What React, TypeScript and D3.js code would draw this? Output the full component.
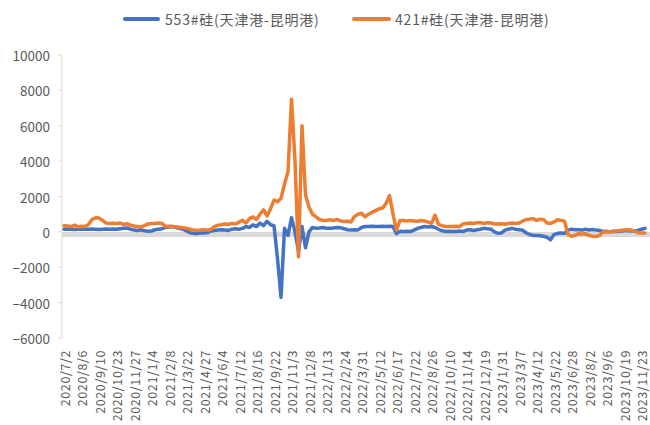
import React from "react";
import * as d3 from "d3";

const dateLabels = [
  "2020/7/2", "2020/8/6", "2020/9/10", "2020/10/23", "2020/11/27", "2021/1/4",
  "2021/2/8", "2021/3/22", "2021/4/27", "2021/6/4", "2021/7/12", "2021/8/16",
  "2021/9/22", "2021/11/3", "2021/12/8", "2022/1/13", "2022/2/24", "2022/3/31",
  "2022/5/12", "2022/6/17", "2022/7/22", "2022/8/26", "2022/10/10", "2022/11/14",
  "2022/12/19", "2023/1/31", "2023/3/7", "2023/4/12", "2023/5/22", "2023/6/28",
  "2023/8/2", "2023/9/6", "2023/10/19", "2023/11/23",
];

const seriesNames = ["553#硅(天津港-昆明港)", "421#硅(天津港-昆明港)"];

const series553 = [
  150, 160, 150, 140, 150, 160, 150, 150, 160, 150,
  140, 150, 160, 150, 160, 150, 180, 200, 220, 150,
  100, 80, 120, 60, 40, 50, 120, 150, 180, 250,
  280, 300, 250, 200, 150, 50, -50, -80, -100, -70,
  -60, -40, 50, 80, 100, 120, 100, 80, 150, 180,
  150, 200, 300, 250, 400, 300, 500, 350, 600, 400,
  350, -1500, -3700, 200, -200, 800, 0, -1100, 300, -900,
  0, 250, 200, 220, 250, 200, 200, 220, 250, 230,
  180, 120, 100, 120, 110, 250, 300, 300, 320, 310,
  300, 320, 300, 320, 300, -100, 30, 20, 30, 20,
  100, 200, 250, 300, 280, 300, 250, 150, 60, 20,
  30, 20, 20, 50, 20, 100, 120, 80, 120, 150,
  200, 180, 150, 0, -80, -60, 100, 150, 200, 150,
  120, 100, -50, -150, -200, -200, -220, -250, -300, -450,
  -150, -80, -60, -80, 100, 150, 120, 120, 100, 150,
  110, 130, 100, 80, 20, 30, 0, 40, 20, 30,
  60, 80, 50, 70, 80, 150, 200,
];

const series421 = [
  350, 330, 300, 380, 280, 320, 300, 420, 700, 800,
  780, 650, 500, 480, 490, 470, 500, 420, 460, 380,
  330, 300, 280, 350, 450, 480, 470, 500, 480, 300,
  320, 300, 280, 260, 230, 200, 150, 100, 80, 100,
  120, 90, 150, 300, 380, 400, 450, 420, 480, 450,
  550, 650, 500, 750, 850, 700, 1000, 1250, 900, 1300,
  1800, 1700, 1900, 2700, 3400, 7500, 4000, -1400, 6000, 2100,
  1400, 1000, 850, 700, 650, 650, 680, 650, 700, 620,
  580, 600, 560, 870, 1000, 1050, 850, 1000, 1100, 1200,
  1300, 1350, 1600, 2050, 1000, 100, 650, 640, 620, 640,
  620, 600, 640, 620, 550, 480, 950, 420, 350, 300,
  300, 300, 320, 300, 450, 480, 500, 480, 520, 520,
  480, 520, 500, 450, 440, 460, 430, 480, 500, 480,
  500, 600, 700, 720, 750, 650, 720, 700, 500, 480,
  560, 680, 650, 600, -150, -250, -200, -100, -120, -100,
  -200, -250, -260, -200, 0, 20, 0, 30, 50, 80,
  110, 120, 100, 50, -50, -70, -60,
];

const yTicks = [10000, 8000, 6000, 4000, 2000, 0, -2000, -4000, -6000];
const colors = ["#4472C4", "#ED7D31"];
const labelStep = 5;

const FONT = "'Noto Sans CJK SC', 'Noto Sans', sans-serif";
const TEXT = "#595959";

export default function App() {
  const W = 650, H = 425;
  const y = d3.scaleLinear().domain([-6000, 10000]).range([338, 55]);
  const x = d3.scaleLinear().domain([0, series553.length - 1]).range([64, 645]);
  const line = d3
    .line<number>()
    .x((_, i) => x(i))
    .y((d) => y(d))
    .curve(d3.curveLinear);

  const fmt = (v: number) => (v < 0 ? "\u2212" + Math.abs(v) : String(v));

  return (
    <svg
      width={W}
      height={H}
      style={{ position: "absolute", left: 0, top: 0, display: "block", background: "#fff" }}
      fontFamily={FONT}
    >
      {/* legend */}
      <g>
        <line x1={125} x2={158} y1={19} y2={19} stroke={colors[0]} strokeWidth={4} strokeLinecap="round" />
        <text x={165} y={19} dominantBaseline="central" fontSize={14} letterSpacing={0.8} fill={TEXT}>{seriesNames[0]}</text>
        <line x1={354} x2={389} y1={19} y2={19} stroke={colors[1]} strokeWidth={4} strokeLinecap="round" />
        <text x={395} y={19} dominantBaseline="central" fontSize={14} letterSpacing={0.8} fill={TEXT}>{seriesNames[1]}</text>
      </g>

      {/* y axis */}
      <line x1={62} x2={62} y1={y(10000)} y2={y(-6000)} stroke="#d9d9d9" strokeWidth={1} />
      {yTicks.map((t) => (
        <g key={t}>
          <line x1={58} x2={62} y1={y(t)} y2={y(t)} stroke="#d9d9d9" strokeWidth={1} />
          <text x={50} y={y(t)} textAnchor="end" dominantBaseline="central" fontSize={13.5} fill={TEXT}>
            {fmt(t)}
          </text>
        </g>
      ))}

      {/* zero axis band */}
      <line x1={62} x2={650} y1={y(0) + 2.5} y2={y(0) + 2.5} stroke="#d9d9d9" strokeWidth={5} />

      {/* series */}
      <path d={line(series553) || ""} fill="none" stroke={colors[0]} strokeWidth={3.5} strokeLinejoin="round" strokeLinecap="round" />
      <path d={line(series421) || ""} fill="none" stroke={colors[1]} strokeWidth={3.5} strokeLinejoin="round" strokeLinecap="round" />

      {/* x labels */}
      {dateLabels.map((lab, i) => {
        const px = x(i * labelStep);
        return (
          <text
            key={lab}
            transform={`translate(${px},350) rotate(-90)`}
            textAnchor="end"
            dominantBaseline="central"
            fontSize={12.5}
            letterSpacing={0.6}
            fill={TEXT}
          >
            {lab}
          </text>
        );
      })}
    </svg>
  );
}
